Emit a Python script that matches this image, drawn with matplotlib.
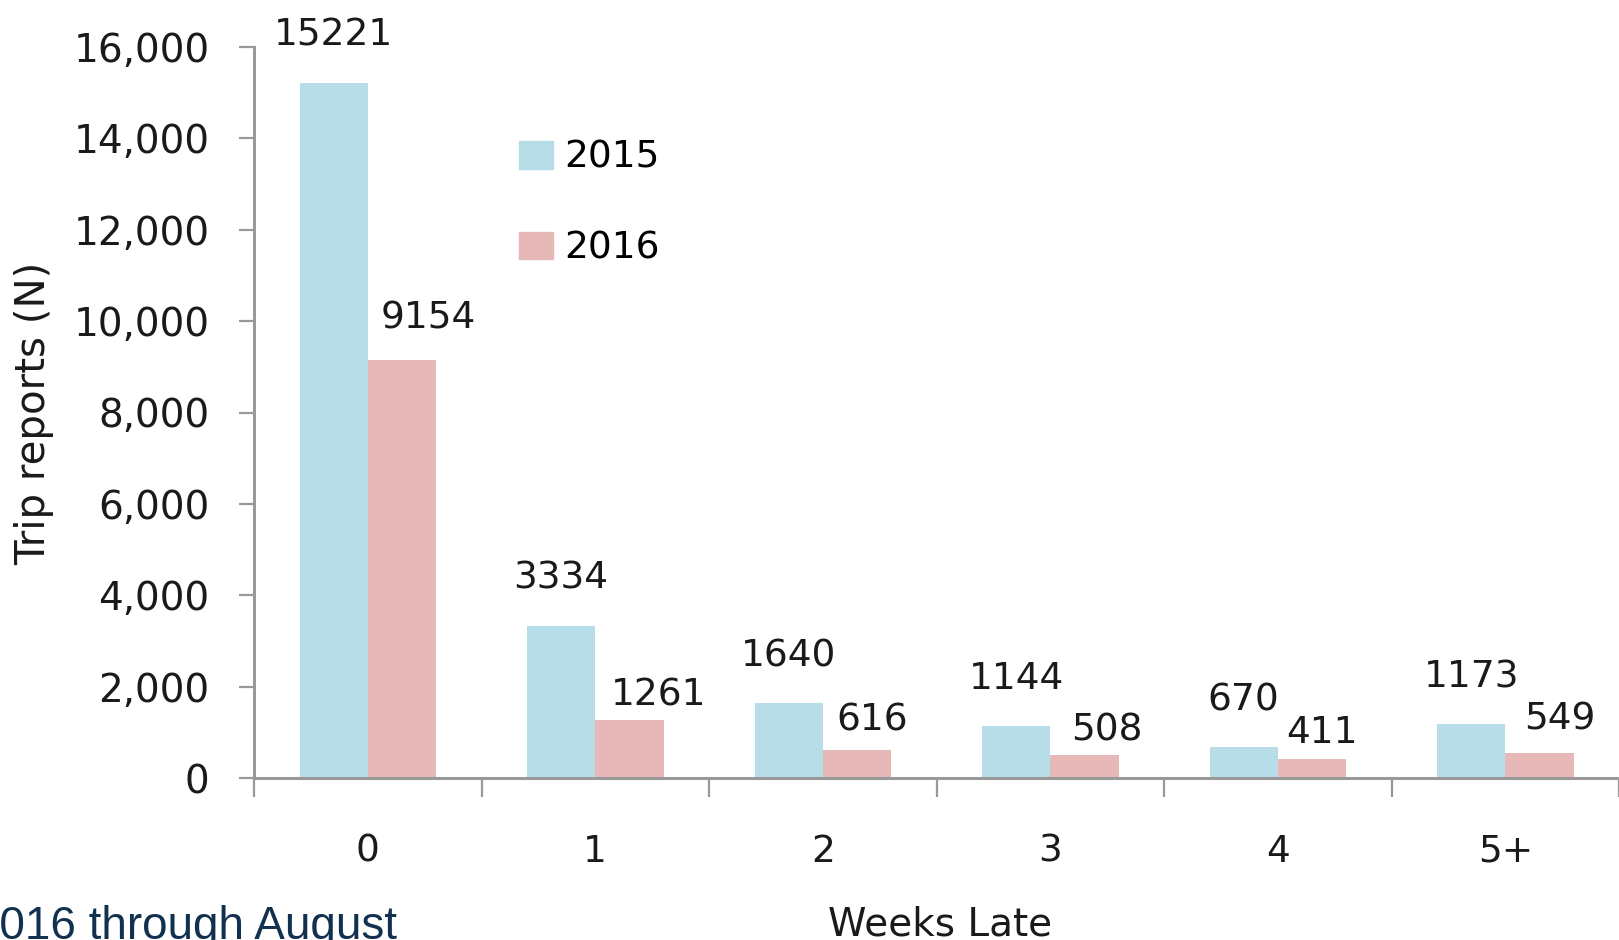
import matplotlib.pyplot as plt
import numpy as np
from matplotlib.patches import Patch
from matplotlib.ticker import FuncFormatter

weeks = ["0", "1", "2", "3", "4", "5+"]
reports_2015 = [15221, 3334, 1640, 1144, 670, 1173]
reports_2016 = [9154, 1261, 616, 508, 411, 549]

# label offsets in pixels (Excel put the 2016 labels a bit to the right)
off_2015 = [(0, 37)] * 6
off_2016 = [(26, 31), (29, 15), (15, 19), (22, 14), (10, 16), (20, 23)]

C2015 = "#B7DDE8"
C2016 = "#E6B9B8"
GRAY = "#999999"
FS = 27

plt.rcParams["font.family"] = "DejaVu Sans"

W, H = 1619, 940
fig = plt.figure(figsize=(W / 100, H / 100), dpi=100)
ax = fig.add_axes([254 / W, 1 - 778 / H, 1 - 254 / W, (778 - 47) / H])

x = np.arange(len(weeks))
bw = 0.3
ax.bar(x - bw / 2, reports_2015, width=bw, color=C2015, label="2015")
ax.bar(x + bw / 2, reports_2016, width=bw, color=C2016, label="2016")

for xi, v, (dx, dy) in zip(x, reports_2015, off_2015):
    ax.annotate(str(v), (xi - bw / 2, v), xytext=(dx, dy), textcoords="offset pixels",
                ha="center", va="baseline", fontsize=FS, color="#1a1a1a")
for xi, v, (dx, dy) in zip(x, reports_2016, off_2016):
    ax.annotate(str(v), (xi + bw / 2, v), xytext=(dx, dy), textcoords="offset pixels",
                ha="center", va="baseline", fontsize=FS, color="#1a1a1a")

ax.set_xlim(-0.5, len(weeks) - 0.5)
ax.set_ylim(0, 16000)
ax.set_yticks(np.arange(0, 16001, 2000))
ax.yaxis.set_major_formatter(FuncFormatter(lambda v, p: f"{int(v):,}"))

ax.set_xticks(np.arange(-0.5, len(weeks), 1.0))
ax.set_xticklabels([])
ax.set_xticks(x, minor=True)
ax.set_xticklabels(weeks, minor=True)

for s in ["top", "right"]:
    ax.spines[s].set_visible(False)
for s in ["left", "bottom"]:
    ax.spines[s].set_color(GRAY)
    ax.spines[s].set_linewidth(2.2)

ax.tick_params(axis="y", length=11, width=1.6, color=GRAY, pad=21, labelsize=FS + 1, labelcolor="#1a1a1a")
ax.tick_params(axis="x", which="major", length=14, width=1.6, color=GRAY)
ax.tick_params(axis="x", which="minor", length=0, pad=40, labelsize=FS, labelcolor="#1a1a1a")

handles = [Patch(color=C2015, label="2015"), Patch(color=C2016, label="2016")]
fig.legend(handles=handles, loc="upper left", bbox_to_anchor=(519 / W, 1 - 140 / H),
           frameon=False, fontsize=FS, handlelength=0.9, handleheight=0.75,
           handletextpad=0.3, labelspacing=1.45, borderpad=0, borderaxespad=0)

fig.text(34 / W, 1 - 413 / H, "Trip reports (N)", rotation=90, ha="center", va="center",
         fontsize=29, color="#1a1a1a")
fig.text(940 / W, 4 / H, "Weeks Late", ha="center", va="baseline", fontsize=FS + 1, color="#1a1a1a")
fig.text(397 / W, 1 / H, "2016 through August", ha="right", va="baseline", fontsize=33,
         family="Liberation Sans", color="#12304f")

fig.savefig("out.png", dpi=100)
